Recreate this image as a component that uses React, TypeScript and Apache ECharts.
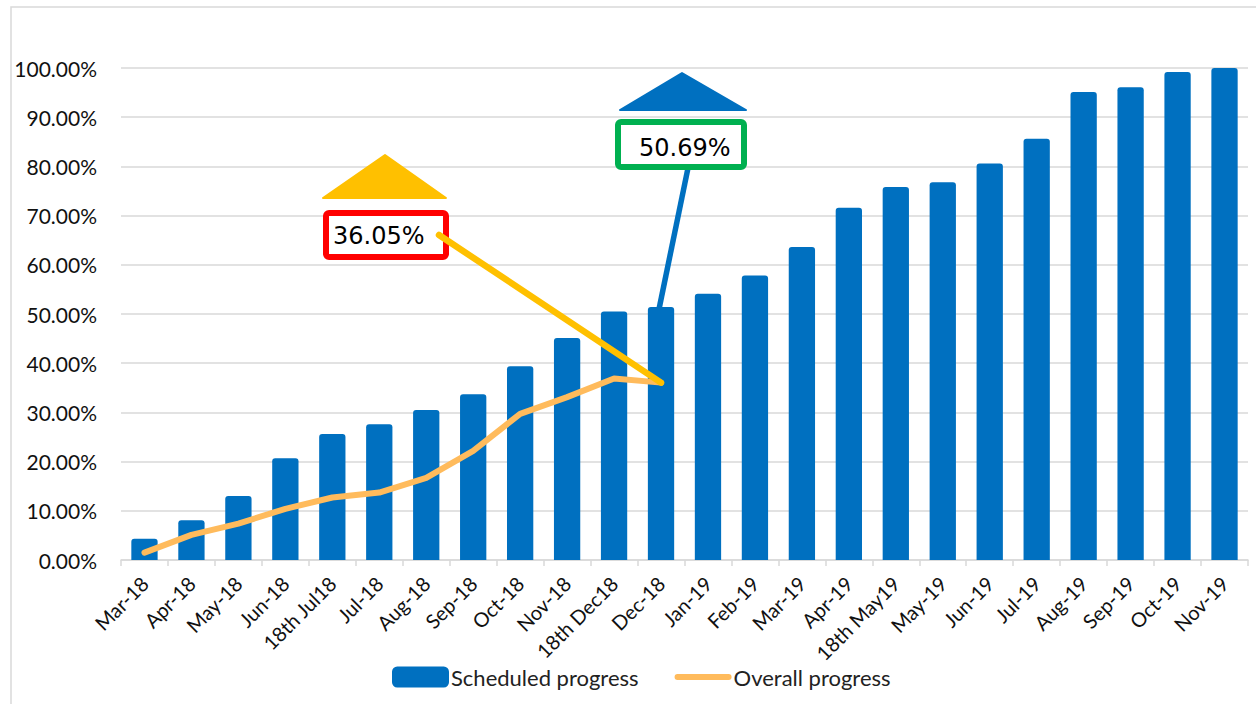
import React, { useEffect, useRef } from "react";
import * as echarts from "echarts";

const categories = [
  "Mar-18", "Apr-18", "May-18", "Jun-18", "18th Jul18", "Jul-18", "Aug-18", "Sep-18",
  "Oct-18", "Nov-18", "18th Dec18", "Dec-18", "Jan-19", "Feb-19", "Mar-19", "Apr-19",
  "18th May19", "May-19", "Jun-19", "Jul-19", "Aug-19", "Sep-19", "Oct-19", "Nov-19",
];
const scheduled = [
  4.3, 8.1, 13.0, 20.7, 25.6, 27.6, 30.5, 33.7, 39.4, 45.1, 50.5, 51.4,
  54.1, 57.8, 63.6, 71.6, 75.8, 76.8, 80.6, 85.6, 95.1, 96.1, 99.2, 100,
];
const overall = [1.5, 5.1, 7.4, 10.4, 12.7, 13.7, 16.7, 22.2, 29.7, 33.1, 36.9, 36.05];
const yTicks = { min: 0, max: 100, interval: 10 };
const overallLabel = "36.05%";
const scheduledLabel = "50.69%";
const pointIndex = 11;

const FONT = "Lato, 'Open Sans', sans-serif";
const LINE_ICON = "path://M3,0 H55 A3,3 0 0 1 55,6 H3 A3,3 0 0 1 3,0 Z";

export default function App() {
  const ref = useRef<HTMLDivElement>(null);
  useEffect(() => {
    if (!ref.current) return;
    const chart = echarts.init(ref.current, null, { renderer: "svg" });
    chart.setOption({
      animation: false,
      backgroundColor: "#fff",
      grid: { left: 121, right: 8, top: 68, bottom: 144 },
      legend: {
        left: 387,
        top: 661,
        itemWidth: 57,
        itemHeight: 21,
        itemGap: 36,
        textStyle: { fontFamily: FONT, fontSize: 22, color: "#222", padding: [0, 0, 0, -3] },
        data: [
          { name: "Scheduled progress", icon: "roundRect" },
          { name: "Overall progress", icon: LINE_ICON },
        ],
      },
      xAxis: {
        type: "category",
        data: categories,
        axisLine: { lineStyle: { color: "#d9d9d9", width: 1.5 } },
        axisTick: { show: true, length: 6, lineStyle: { color: "#d9d9d9", width: 1.5 } },
        axisLabel: {
          rotate: 45,
          interval: 0,
          margin: 20,
          fontFamily: FONT,
          fontSize: 20,
          color: "#111",
        },
      },
      yAxis: {
        type: "value",
        min: yTicks.min,
        max: yTicks.max,
        interval: yTicks.interval,
        axisLine: { show: false },
        axisTick: { show: false },
        splitLine: { lineStyle: { color: "#d9d9d9", width: 1.5 } },
        axisLabel: {
          margin: 24,
          fontFamily: FONT,
          fontSize: 21,
          color: "#111",
          formatter: (v: number) => v.toFixed(2) + "%",
        },
      },
      series: [
        {
          name: "Scheduled progress",
          type: "bar",
          data: scheduled,
          barWidth: "56%",
          itemStyle: { color: "#0070C0", borderRadius: [3, 3, 0, 0] },
          z: 2,
        },
        {
          name: "Overall progress",
          type: "line",
          data: overall,
          showSymbol: false,
          symbol: "none",
          lineStyle: { color: "#FFBB5C", width: 6, cap: "round", join: "round" },
          itemStyle: { color: "#FFBB5C" },
          z: 3,
        },
      ],
    });

    const pLine = chart.convertToPixel({ seriesIndex: 1 }, [pointIndex, overall[pointIndex]]) as number[];
    const pBar = chart.convertToPixel({ seriesIndex: 0 }, [pointIndex, scheduled[pointIndex]]) as number[];

    chart.setOption({
      graphic: [
        {
          type: "polyline",
          shape: { points: [[11, 704], [11, 7], [1256, 7]] },
          style: { stroke: "#d9d9d9", lineWidth: 1.5, fill: "none" },
          z: 1,
        },
        {
          type: "polygon",
          shape: { points: [[323, 198], [385, 155], [446, 198]] },
          style: { fill: "#FFC000", stroke: "#FFC000", lineWidth: 2, lineJoin: "round" },
          z: 10,
        },
        {
          type: "rect",
          shape: { x: 326, y: 213, width: 120, height: 44, r: 3 },
          style: { fill: "#fff", stroke: "#FF0000", lineWidth: 6 },
          z: 10,
        },
        {
          type: "text",
          x: 333,
          y: 236,
          style: {
            text: overallLabel,
            font: "24px 'DejaVu Sans', sans-serif",
            fill: "#000",
            verticalAlign: "middle",
            textVerticalAlign: "middle",
          },
          z: 12,
        },
        {
          type: "line",
          shape: { x1: 439, y1: 235, x2: pLine[0], y2: pLine[1] },
          style: { stroke: "#FFC000", lineWidth: 6.5, lineCap: "round" },
          z: 11,
        },
        {
          type: "polygon",
          shape: { points: [[620, 110], [682, 73], [746, 110]] },
          style: { fill: "#0070C0", stroke: "#0070C0", lineWidth: 2, lineJoin: "round" },
          z: 10,
        },
        {
          type: "line",
          shape: { x1: 688, y1: 168, x2: pBar[0] - 2, y2: pBar[1] + 2 },
          style: { stroke: "#0070C0", lineWidth: 5.5 },
          z: 9,
        },
        {
          type: "rect",
          shape: { x: 618, y: 122, width: 126, height: 45, r: 3 },
          style: { fill: "#fff", stroke: "#00B050", lineWidth: 6 },
          z: 10,
        },
        {
          type: "text",
          x: 639,
          y: 148,
          style: {
            text: scheduledLabel,
            font: "24px 'DejaVu Sans', sans-serif",
            fill: "#000",
            verticalAlign: "middle",
            textVerticalAlign: "middle",
          },
          z: 12,
        },
      ],
    });

    return () => chart.dispose();
  }, []);

  return (
    <div
      ref={ref}
      style={{ position: "fixed", left: 0, top: 0, width: 1256, height: 704, background: "#fff" }}
    />
  );
}
